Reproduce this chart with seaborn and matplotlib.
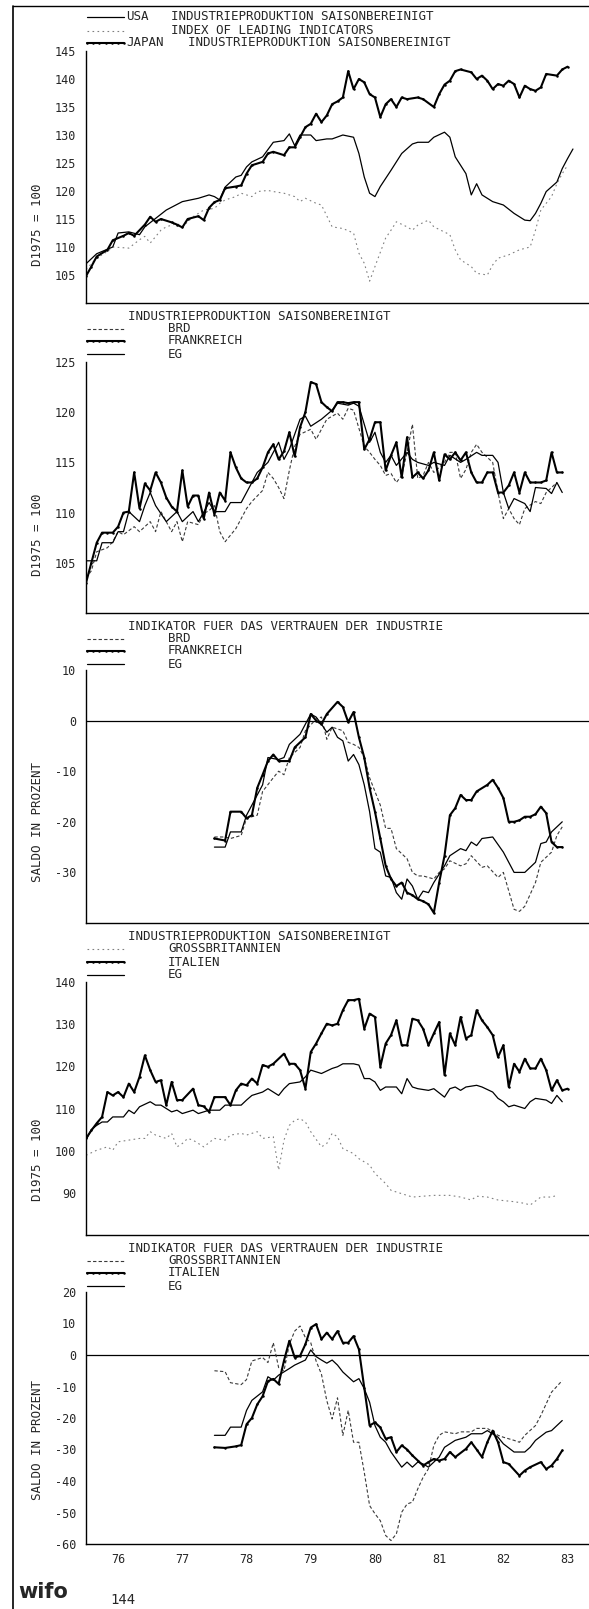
import numpy as np
import pandas as pd
import matplotlib.pyplot as plt
from matplotlib.lines import Line2D
import seaborn as sns

# ---- Data (month index from Jan 1976, value) ----
# Panel 1: USA / Leading indicators / Japan (1975 = 100)
usa_m = [0, 2, 5, 6, 8, 10, 11, 13, 15, 18, 21, 23, 24, 25, 26, 28, 29, 30, 31, 33, 35, 37, 38, 39, 40, 42, 43, 45, 46, 48,
         50, 51, 52, 53, 54, 55, 57, 59, 61, 62, 64, 65, 67, 68, 69, 71, 72, 73, 74, 76, 78, 80, 82, 83, 84, 85, 86, 88, 89, 90, 91]
usa_v = [107, 108.8, 110, 112.5, 112.7, 112.2, 113.6, 115.1, 116.6, 118.1, 118.7, 119.3, 119, 118.4, 120.7, 122.5, 122.8, 124.3,
         125.2, 126.1, 128.7, 129, 130.2, 128.1, 130, 130, 129, 129.3, 129.3, 130, 129.6, 126.7, 122.5, 119.6, 119, 120.8, 123.7,
         126.7, 128.4, 128.7, 128.7, 129.6, 130.5, 129.6, 126.1, 123.1, 119.3, 121.3, 119.3, 118.1, 117.5, 116, 114.8, 114.7, 116,
         117.8, 119.9, 121.6, 124, 125.8, 127.5]
lead_m = [0, 2, 4, 5, 8, 10, 11, 12, 14, 15, 17, 18, 20, 21, 22, 24, 25, 26, 28, 29, 31, 32, 34, 35, 37, 39, 40, 41, 43, 44,
          46, 48, 50, 51, 52, 53, 54, 56, 57, 58, 60, 61, 62, 64, 65, 68, 69, 70, 72, 73, 75, 76, 77, 79, 81, 83, 84, 85, 87, 88, 89, 90]
lead_v = [106, 108, 109.2, 110, 109.8, 111.3, 111.9, 110.7, 113, 113.6, 114.2, 113.6, 115.4, 116, 116.6, 116.9, 117.8, 118.4, 119,
          119.6, 119, 119.9, 120.1, 119.9, 119.6, 119, 118.1, 118.7, 117.8, 117.5, 113.6, 113.3, 112.5, 108.9, 107.1, 103.9, 106.5,
          111.6, 113, 114.5, 113.6, 113, 113.9, 114.8, 113.6, 112.2, 109.5, 107.7, 106.5, 105.3, 105, 106.8, 108, 108.6, 109.5, 110,
          113, 116.6, 119, 121.3, 123.1, 124.6]
japan_m = [0, 1, 2, 4, 5, 7, 8, 9, 11, 12, 13, 14, 16, 17, 18, 19, 21, 22, 23, 24, 25, 26, 28, 29, 30, 31, 33, 34, 35, 37, 38,
           39, 40, 41, 42, 43, 44, 45, 46, 47, 48, 49, 50, 51, 52, 53, 54, 55, 56, 57, 58, 59, 60, 62, 63, 65, 66, 67, 68, 69, 70,
           72, 73, 74, 75, 76, 77, 78, 79, 80, 81, 82, 83, 84, 85, 86, 88, 89, 90]
japan_v = [104.8, 106.5, 108.3, 109.5, 111.2, 112, 112.5, 112, 114, 115.4, 114.5, 115, 114.4, 114, 113.5, 115, 115.5, 114.8, 117,
           118, 118.4, 120.5, 120.8, 121, 123.1, 124.6, 125.2, 126.7, 127, 126.4, 127.8, 127.8, 129.6, 131.4, 132, 133.8, 132.3,
           133.5, 135.5, 136, 136.7, 141.4, 138.2, 140, 139.4, 137.3, 136.7, 133.2, 135.5, 136.4, 135, 136.7, 136.4, 136.7, 136.4,
           135, 137.3, 139, 139.7, 141.4, 141.7, 141.2, 140, 140.6, 139.7, 138.2, 139.1, 138.8, 139.7, 139.1, 136.7, 138.8, 138.2,
           137.9, 138.5, 140.9, 140.6, 141.7, 142.2]

# Panel 2: industrial production BRD / Frankreich / EG
brd_ip_m = [0, 1, 2, 4, 5, 6, 7, 9, 10, 12, 13, 14, 16, 17, 18, 19, 21, 22, 23, 24, 25, 26, 28, 29, 30, 31, 33, 34, 35, 36, 37,
            38, 39, 40, 42, 43, 44, 45, 47, 48, 49, 50, 52, 53, 54, 55, 56, 57, 58, 59, 60, 61, 62, 63, 64, 65, 67, 68, 69, 70,
            71, 72, 73, 74, 76, 77, 78, 79, 80, 81, 82, 84, 85, 86, 87, 88]
brd_ip_v = [103.5, 104.2, 106.1, 106.5, 107.1, 108.1, 107.8, 108.6, 108.1, 109.1, 108.1, 110.1, 108.1, 109.1, 107.1, 109.1, 108.8,
            109.9, 110.2, 110.7, 108.1, 107.1, 108.4, 109.4, 110.4, 111.1, 112.2, 114, 113.4, 112.5, 111.4, 114.2, 116.6, 117.8,
            118.3, 117.3, 118.3, 119.3, 119.9, 119.3, 120.4, 120.2, 116.6, 116, 115.3, 114.7, 113.7, 113.9, 113, 113.7, 116, 118.8,
            113.4, 113.7, 115, 114, 115, 116, 116, 113.4, 114.3, 116, 116.8, 116, 115, 112, 109.4, 110.4, 109.4, 108.8, 110.4, 111.1,
            110.9, 112, 112.5, 113]
fra_ip_m = list(range(0, 90))
fra_ip_v = [103, 105, 107, 108, 108, 108, 108.6, 110, 110.1, 114, 110.4, 112.9, 112.2, 114, 113, 111.5, 110.6, 110.1, 114.2, 110.6,
            111.7, 111.7, 109.4, 112, 109.8, 112, 111.2, 116, 114.5, 113.4, 113, 113, 113.4, 114.5, 116, 116.8, 115.3, 116.1, 118,
            115.6, 118.5, 120, 123, 122.8, 121, 120.5, 120.1, 121, 121, 120.9, 121, 121, 116.3, 117.3, 119, 119, 114.2, 115.7, 117,
            113.5, 117.5, 113.5, 114, 113.4, 114.2, 116, 113.2, 115.8, 115.3, 116, 115.2, 116, 114, 113, 113, 114, 114, 112, 112,
            112.7, 114, 112, 114, 113, 113, 113, 113.2, 116, 114, 114]
eg_ip_m = [0, 2, 3, 5, 6, 7, 8, 10, 11, 12, 13, 15, 17, 18, 20, 21, 23, 24, 26, 27, 29, 30, 32, 34, 36, 37, 38, 40, 41, 42, 44,
           46, 47, 49, 50, 51, 53, 54, 55, 56, 57, 58, 60, 61, 62, 64, 65, 67, 68, 70, 71, 73, 74, 76, 77, 78, 79, 80, 82, 83, 84,
           86, 87, 88, 89]
eg_ip_v = [105.2, 105.2, 107, 107, 108.1, 108.1, 110.1, 109.1, 110.7, 112, 110.7, 109.1, 110.1, 109.1, 110.1, 109.1, 111, 110.1,
           110.1, 111, 111, 112, 114, 115, 117, 115.3, 116.3, 119.3, 119.6, 118.6, 119.3, 120.2, 120.9, 120.7, 120.9, 120.6, 117,
           118, 116, 115, 115.7, 114.7, 116, 115.3, 115, 114.7, 115, 114.7, 115.7, 115, 115.3, 116, 115.7, 115.7, 115, 112, 110.4,
           111.4, 110.9, 110.1, 112.5, 112.4, 111.9, 113, 112]

# Panel 3: confidence indicator BRD / Frankreich / EG (balance in %)
brd_ci_m = [24, 26, 27, 29, 30, 32, 33, 35, 36, 37, 38, 40, 41, 43, 44, 45, 46, 48, 49, 50, 51, 52, 53, 55, 56, 57, 58, 60, 61,
            62, 63, 65, 66, 67, 68, 70, 71, 72, 74, 75, 77, 78, 80, 81, 82, 84, 85, 87, 88, 89]
brd_ci_v = [-23, -23, -23.3, -22.7, -19.3, -18.7, -14, -11.3, -10, -10.7, -7.3, -5.3, -2, 0.3, 0.7, -3.7, -1.3, -2, -4.3, -4.7,
            -5.3, -7.3, -11.3, -16.7, -21.3, -21.3, -25.3, -27.3, -30, -30.7, -30.7, -31.3, -30, -29.3, -27.7, -28.7, -28.3, -26.7,
            -29, -28.7, -31, -30, -37.3, -37.7, -36.7, -32, -28, -26, -22.7, -21]
fra_ci_m = [24, 26, 27, 29, 30, 31, 32, 33, 34, 35, 36, 38, 39, 41, 42, 43, 44, 45, 47, 48, 49, 50, 51, 52, 53, 54, 55, 56, 57,
            58, 59, 60, 61, 62, 63, 64, 65, 66, 67, 68, 69, 70, 71, 72, 73, 75, 76, 77, 78, 79, 80, 81, 82, 83, 84, 85, 86, 87, 88, 89]
fra_ci_v = [-23.3, -23.7, -18, -18, -19.3, -18.7, -13.3, -10.7, -8, -6.7, -8, -8, -5.3, -3.3, 1.3, 0, -0.7, 1.3, 3.7, 2.7, -0.3,
            1.7, -3.3, -7.3, -13.3, -18, -23.3, -28.7, -31.3, -32.7, -32, -34, -34.5, -35.3, -35.7, -36.3, -38, -32, -26.7, -18.7,
            -17.3, -14.7, -15.7, -15.7, -14, -12.7, -11.7, -13.3, -15.3, -20, -20, -19.7, -19, -19, -18.5, -17, -18.3, -24, -25, -25]
eg_ci_m = [24, 26, 27, 29, 30, 31, 33, 34, 36, 37, 38, 40, 42, 43, 44, 45, 46, 47, 48, 49, 50, 51, 52, 53, 54, 55, 56, 57, 58,
           59, 60, 61, 62, 63, 64, 65, 67, 68, 70, 71, 72, 73, 74, 76, 78, 80, 82, 84, 85, 86, 87, 88, 89]
eg_ci_v = [-25, -25, -22, -22, -18.7, -16.7, -12.7, -7.3, -7.7, -7.3, -4.7, -2.7, 1.3, 0.7, -0.7, -2.3, -1.3, -3.3, -4, -8, -6.7,
           -8.7, -12.7, -18, -25.3, -26, -30.7, -31, -34, -35.3, -31.3, -32.7, -35.3, -33.7, -34, -32, -28.7, -26.7, -25.3, -25.7,
           -24, -24.7, -23.3, -23, -26, -30, -30, -28, -24.3, -24, -22, -21, -20]

# Panel 4: industrial production Grossbritannien / Italien / EG
gb_ip_m = [0, 2, 4, 5, 6, 8, 10, 11, 12, 13, 15, 16, 17, 18, 19, 20, 22, 24, 26, 27, 29, 30, 32, 33, 35, 36, 37, 38, 39, 40, 41,
           42, 44, 45, 46, 47, 48, 50, 51, 53, 54, 56, 57, 58, 60, 61, 63, 65, 68, 70, 72, 73, 75, 77, 80, 82, 83, 85, 87, 88]
gb_ip_v = [98.9, 100.1, 100.9, 100.1, 102.1, 102.5, 102.9, 102.9, 104.5, 103.7, 102.9, 104.1, 100.9, 101.7, 102.9, 102.5, 100.9,
           102.9, 102.5, 103.7, 104.1, 103.7, 104.5, 102.9, 103.3, 95.4, 102.5, 106, 107.2, 107.6, 106.8, 104.5, 100.9, 101.7, 104.1,
           103.3, 100.5, 99.3, 98.1, 96.6, 94.6, 92.2, 90.6, 90.2, 89.4, 89, 89.2, 89.4, 89.4, 89, 88.3, 89.2, 89, 88.3, 87.9, 87.5,
           87.1, 89, 89, 89.4]
ita_ip_m = [0, 1, 2, 3, 4, 5, 6, 7, 8, 9, 10, 11, 12, 13, 14, 15, 16, 17, 18, 20, 21, 22, 23, 24, 26, 27, 28, 29, 30, 31, 32, 33,
            34, 35, 37, 38, 39, 40, 41, 42, 43, 44, 45, 46, 47, 48, 49, 50, 51, 52, 53, 54, 55, 56, 57, 58, 59, 60, 61, 62, 63, 64,
            65, 66, 67, 68, 69, 70, 71, 72, 73, 74, 75, 76, 77, 78, 79, 80, 81, 82, 83, 84, 85, 86, 87, 88, 89, 90]
ita_ip_v = [102.9, 104.8, 106.5, 108, 113.9, 113.1, 113.9, 112.7, 115.9, 113.9, 117.5, 122.6, 119.1, 116.3, 116.7, 110.8, 116.3,
            112, 112, 114.7, 110.8, 110.5, 109.2, 112.7, 112.7, 110.8, 114.3, 115.9, 115.5, 117.1, 115.9, 120.3, 119.9, 120.6, 123,
            120.6, 120.6, 119.1, 114.7, 123.4, 125.4, 127.8, 130.1, 129.7, 130.1, 133.3, 135.7, 135.7, 136, 128.9, 132.5, 131.7,
            119.9, 125.4, 127.4, 130.9, 125, 125, 131.3, 130.9, 128.9, 125, 127.8, 130.5, 117.9, 127.8, 125, 131.7, 126.6, 127.4,
            133.3, 130.9, 129.3, 127.4, 122.2, 125, 115.1, 120.6, 118.7, 121.8, 119.5, 119.5, 121.8, 119.1, 114.3, 116.7, 114.3, 114.7]
eg_ip2_m = [0, 1, 2, 3, 4, 5, 7, 8, 9, 10, 12, 13, 14, 16, 17, 18, 20, 21, 23, 24, 25, 26, 29, 30, 31, 33, 34, 36, 37, 38, 40,
            41, 42, 43, 44, 46, 47, 48, 50, 51, 52, 53, 54, 55, 56, 58, 59, 60, 61, 62, 64, 65, 67, 68, 69, 70, 71, 73, 74, 76, 77,
            78, 79, 80, 81, 82, 83, 84, 86, 87, 88, 89]
eg_ip2_v = [102.5, 105, 106, 106.8, 106.8, 108, 108, 109.6, 108.8, 110.4, 111.6, 110.8, 110.8, 109.2, 109.6, 108.8, 109.6, 108.8,
            109.6, 109.6, 109.6, 110.8, 110.8, 112, 113.1, 113.9, 114.7, 113.1, 114.7, 115.9, 116.3, 117.5, 119.1, 118.7, 118.3,
            119.5, 119.9, 120.6, 120.6, 120.3, 117.1, 117.1, 116.3, 114.3, 115.1, 115.1, 113.5, 117.1, 115.1, 114.7, 114.3, 114.7,
            112.7, 114.7, 115.1, 114.3, 115.1, 115.5, 115.1, 113.9, 112.4, 111.6, 110.4, 110.8, 110.4, 110, 111.6, 112.4, 112, 111.2,
            113.1, 111.6]

# Panel 5: confidence indicator Grossbritannien / Italien / EG
gb_ci_m = [24, 26, 27, 29, 30, 31, 33, 34, 35, 36, 37, 38, 39, 40, 41, 42, 43, 44, 45, 46, 47, 48, 49, 50, 51, 52, 53, 54, 55,
           56, 57, 58, 59, 60, 61, 62, 63, 64, 65, 66, 67, 69, 70, 72, 73, 75, 76, 77, 78, 80, 81, 82, 84, 85, 86, 87, 89]
gb_ci_v = [-5, -5.3, -8.8, -9.4, -7.8, -1.9, -0.8, -2.4, 3.9, -4, -5, 3.4, 7.6, 9.2, 5.5, 3.9, -1.9, -6.1, -14.5, -20.3, -13.6,
           -25.5, -17.6, -27.7, -27.7, -37.2, -47.8, -50.4, -52.6, -57.3, -58.9, -56.8, -49.9, -47.3, -46.7, -42.5, -38.8, -36.1,
           -28.7, -25.5, -24.4, -25, -24.4, -24.4, -23.3, -23.3, -24.4, -25.5, -26.1, -27.1, -27.7, -25.5, -22.4, -19.2, -15.5,
           -11.8, -8.1]
ita_ci_m = [24, 26, 28, 29, 30, 31, 32, 33, 34, 35, 36, 37, 38, 39, 40, 41, 42, 43, 44, 45, 46, 47, 48, 49, 50, 51, 52, 53, 54,
            55, 56, 57, 58, 59, 60, 61, 62, 63, 64, 65, 66, 67, 68, 69, 71, 72, 73, 74, 75, 76, 77, 78, 79, 81, 82, 83, 85, 86, 87,
            88, 89]
ita_ci_v = [-29.3, -29.5, -29, -28.6, -22, -20, -15.7, -13.1, -8.3, -7.6, -9.2, -1.8, 4.5, -0.8, -0.3, 3.4, 8.7, 9.8, 5, 7.1, 5,
            7.6, 3.9, 3.9, 6, 1.8, -10.4, -22.4, -21.4, -23, -26.6, -26.1, -30.8, -28.7, -30, -31.9, -33.5, -35.1, -34, -33, -33.5,
            -33, -30.8, -32.4, -29.8, -27.7, -30, -32.4, -27.7, -24, -27.7, -34, -34.6, -38.3, -36.7, -35.6, -34, -36.2, -35.1, -33,
            -30.3]
eg_ci2_m = [24, 26, 27, 29, 30, 31, 33, 34, 35, 36, 38, 39, 41, 42, 43, 44, 45, 46, 47, 48, 50, 51, 52, 53, 54, 55, 56, 57, 59,
            60, 61, 62, 63, 64, 66, 67, 69, 71, 72, 74, 75, 77, 78, 80, 82, 83, 84, 86, 87, 88, 89]
eg_ci2_v = [-25.5, -25.5, -22.9, -22.9, -17.6, -14.4, -11.7, -6.9, -8, -6.4, -4.3, -3.2, -1.6, 1.6, -0.5, -1.6, -2.6, -1.6, -3.2,
            -5.4, -8.5, -7.5, -10.7, -15, -22.4, -26.1, -27.7, -30.8, -35.6, -34, -35.6, -34, -34.6, -35.6, -32.4, -29.3, -27.1,
            -26.1, -25, -25, -24, -26.1, -28.2, -30.8, -30.8, -29.3, -27.1, -24.5, -24, -22.4, -20.8]

year_labels = ["76", "77", "78", "79", "80", "81", "82", "83"]

# ---- Figure setup ----
sns.set_style("white")
plt.rcParams['font.family'] = ['DejaVu Sans Mono', 'DejaVu Sans']

W, H = 589, 1609
LEFT = 86          # x pixel of the y axis
PX_YEAR = 65.5     # pixels per year
fig = plt.figure(figsize=(W / 100, H / 100), dpi=100)

STYLES = {
    "solid": dict(color="black", lw=0.9),
    "thick": dict(color="black", lw=1.5, marker="o", markersize=1.8, markeredgewidth=0),
    "dash": dict(color="#3a3a3a", lw=0.8, linestyle=(0, (3, 2))),
    "dot": dict(color="#808080", lw=0.8, linestyle=(0, (1.5, 3))),
}


def fx(px):
    return px / W


def fy(py):
    return 1 - py / H


def make_axes(top, bottom, ylim, yticks):
    ax = fig.add_axes([fx(LEFT), fy(bottom), fx(W - LEFT), (bottom - top) / H])
    ax.set_xlim(1976, 1976 + (W - LEFT) / PX_YEAR)
    ax.set_ylim(*ylim)
    ax.set_xticks(np.arange(1976, 1984))
    ax.set_xticks(1976 + np.arange(0, 95) / 12, minor=True)
    ax.tick_params(axis="x", which="major", direction="in", length=9, width=0.8, labelbottom=False)
    ax.tick_params(axis="x", which="minor", direction="in", length=4, width=0.6)
    ax.set_yticks(yticks)
    ax.set_yticklabels([str(t) for t in yticks])
    ax.tick_params(axis="y", direction="in", length=5, width=0.9, labelsize=8.5, pad=7)
    for s in ["top", "right"]:
        ax.spines[s].set_visible(False)
    for s in ["left", "bottom"]:
        ax.spines[s].set_linewidth(1.0)
        ax.spines[s].set_color("black")
    return ax


def draw(ax, m, v, kind):
    df = pd.DataFrame({"t": 1976 + np.array(m) / 12, "v": v})
    sns.lineplot(data=df, x="t", y="v", ax=ax, estimator=None, **STYLES[kind])


def finish(ax, ylabel, top, bottom, center_px):
    ax.set_xlabel("")
    ax.set_ylabel(ylabel, fontsize=9)
    ax.yaxis.set_label_coords((44 - LEFT) / (W - LEFT), (bottom - center_px) / (bottom - top))


def legend_row(y, kind, text, tx=168):
    st = STYLES[kind]
    xs = np.linspace(87, 124, 7)
    ln = Line2D(fx(xs), fy(np.full(7, y)), transform=fig.transFigure,
                color=st["color"], lw=st["lw"], linestyle=st.get("linestyle", "-"),
                marker=st.get("marker", None), markersize=st.get("markersize", 0), markeredgewidth=0)
    fig.add_artist(ln)
    fig.text(fx(tx), fy(y), text, fontsize=9, va="center", ha="left")


# ---- Panel 1 ----
ax1 = make_axes(51, 303, (100, 145), [105, 110, 115, 120, 125, 130, 135, 140, 145])
draw(ax1, lead_m, lead_v, "dot")
draw(ax1, usa_m, usa_v, "solid")
draw(ax1, japan_m, japan_v, "thick")
finish(ax1, "D1975 = 100", 51, 303, 225)
legend_row(17, "solid", "USA", tx=126)
fig.text(fx(171), fy(17), "INDUSTRIEPRODUKTION SAISONBEREINIGT", fontsize=9, va="center")
legend_row(31, "dot", "INDEX OF LEADING INDICATORS", tx=171)
legend_row(43, "thick", "JAPAN", tx=126)
fig.text(fx(188), fy(43), "INDUSTRIEPRODUKTION SAISONBEREINIGT", fontsize=9, va="center")

# ---- Panel 2 ----
ax2 = make_axes(362, 613, (100, 125), [105, 110, 115, 120, 125])
draw(ax2, brd_ip_m, brd_ip_v, "dash")
draw(ax2, eg_ip_m, eg_ip_v, "solid")
draw(ax2, fra_ip_m, fra_ip_v, "thick")
finish(ax2, "D1975 = 100", 362, 613, 535)
fig.text(fx(128), fy(316), "INDUSTRIEPRODUKTION SAISONBEREINIGT", fontsize=9, va="center")
legend_row(329, "dash", "BRD")
legend_row(341, "thick", "FRANKREICH")
legend_row(354, "solid", "EG")

# ---- Panel 3 ----
ax3 = make_axes(670, 923, (-40, 10), [-30, -20, -10, 0, 10])
ax3.axhline(0, color="black", lw=0.9)
draw(ax3, brd_ci_m, brd_ci_v, "dash")
draw(ax3, eg_ci_m, eg_ci_v, "solid")
draw(ax3, fra_ci_m, fra_ci_v, "thick")
finish(ax3, "SALDO IN PROZENT", 670, 923, 822)
fig.text(fx(128), fy(626), "INDIKATOR FUER DAS VERTRAUEN DER INDUSTRIE", fontsize=9, va="center")
legend_row(639, "dash", "BRD")
legend_row(651, "thick", "FRANKREICH")
legend_row(664, "solid", "EG")

# ---- Panel 4 ----
ax4 = make_axes(982, 1235, (80, 140), [90, 100, 110, 120, 130, 140])
draw(ax4, gb_ip_m, gb_ip_v, "dot")
draw(ax4, eg_ip2_m, eg_ip2_v, "solid")
draw(ax4, ita_ip_m, ita_ip_v, "thick")
finish(ax4, "D1975 = 100", 982, 1235, 1160)
fig.text(fx(128), fy(937), "INDUSTRIEPRODUKTION SAISONBEREINIGT", fontsize=9, va="center")
legend_row(949, "dot", "GROSSBRITANNIEN")
legend_row(962, "thick", "ITALIEN")
legend_row(975, "solid", "EG")

# ---- Panel 5 ----
ax5 = make_axes(1292, 1544, (-60, 20), [-60, -50, -40, -30, -20, -10, 0, 10, 20])
ax5.axhline(0, color="black", lw=0.9)
draw(ax5, gb_ci_m, gb_ci_v, "dash")
draw(ax5, eg_ci2_m, eg_ci2_v, "solid")
draw(ax5, ita_ci_m, ita_ci_v, "thick")
finish(ax5, "SALDO IN PROZENT", 1292, 1544, 1440)
fig.text(fx(128), fy(1248), "INDIKATOR FUER DAS VERTRAUEN DER INDUSTRIE", fontsize=9, va="center")
legend_row(1261, "dash", "GROSSBRITANNIEN")
legend_row(1273, "thick", "ITALIEN")
legend_row(1286, "solid", "EG")
for i, lab in enumerate(year_labels):
    ax5.text(1976.5 + i, -0.06, lab, transform=ax5.get_xaxis_transform(), ha="center", va="center", fontsize=8.5)

# ---- Page frame, logo and page number ----
fig.add_artist(Line2D([fx(13), fx(13)], [fy(6), 0], transform=fig.transFigure, color="black", lw=1.2))
fig.add_artist(Line2D([fx(13), 1], [fy(6), fy(6)], transform=fig.transFigure, color="black", lw=1.0))
fig.text(fx(18), fy(1592), "wifo", fontsize=15, fontweight="bold", family="DejaVu Sans", va="center")
fig.text(fx(110), fy(1600), "144", fontsize=10, va="center")

fig.savefig("out.png", dpi=100)
